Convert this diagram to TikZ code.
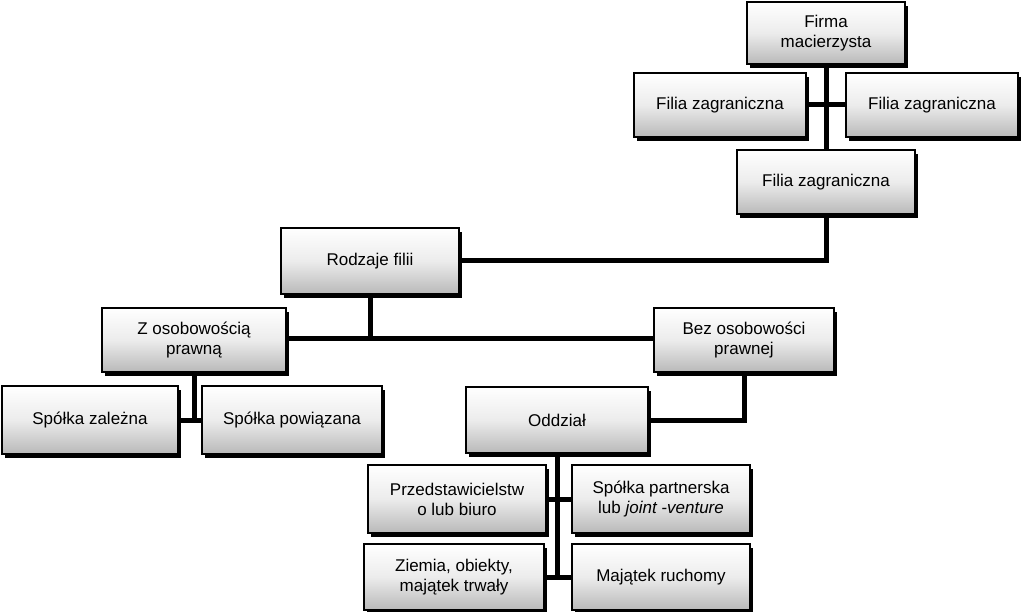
\documentclass[tikz,border=0pt]{standalone}
\usepackage{fontspec}
\setmainfont{Liberation Sans}
\usetikzlibrary{shadows,backgrounds}
\begin{document}
\begin{tikzpicture}[x=1pt,y=-1pt,
 box/.style={draw=black,line width=2.5pt,top color=white,bottom color=gray!55,
   middle color=gray!15,align=center,font=\fontsize{17}{20}\selectfont,inner sep=1pt,
   drop shadow={shadow xshift=3pt,shadow yshift=-4pt,fill=black,opacity=1}},
 conn/.style={line width=5pt,black}]
\useasboundingbox (0,0) rectangle (1024,612);
\coordinate (t1) at (826,105);
\coordinate (t2) at (826,260);
\coordinate (t3) at (370,338);
\coordinate (t4) at (194,420);
\coordinate (t5) at (744,420);
\coordinate (t6) at (557,499);
\coordinate (t7) at (557,578);
\node[box,minimum width=158,minimum height=62] (firma) at (826,33) {Firma\\macierzysta};
\node[box,minimum width=172,minimum height=64] (fl) at (720,105) {Filia zagraniczna};
\node[box,minimum width=172,minimum height=64] (fr) at (932,105) {Filia zagraniczna};
\node[box,minimum width=178,minimum height=64] (fb) at (826,182) {Filia zagraniczna};
\node[box,minimum width=178,minimum height=66] (rodz) at (370,261) {Rodzaje filii};
\node[box,minimum width=184,minimum height=64] (z) at (194,340) {Z osobowością\\prawną};
\node[box,minimum width=180,minimum height=64] (bez) at (744,340) {Bez osobowości\\prawnej};
\node[box,minimum width=176,minimum height=68] (sz) at (90,420) {Spółka zależna};
\node[box,minimum width=180,minimum height=68] (sp) at (292,420) {Spółka powiązana};
\node[box,minimum width=182,minimum height=66] (odd) at (557,420) {Oddział};
\node[box,minimum width=178,minimum height=68] (prz) at (457,499) {Przedstawicielstw\\o lub biuro};
\node[box,minimum width=178,minimum height=68] (spp) at (661,499) {Spółka partnerska\\lub \textit{joint -venture}};
\node[box,minimum width=180,minimum height=66] (ziem) at (454,577) {Ziemia, obiekty,\\majątek trwały};
\node[box,minimum width=178,minimum height=66] (maj) at (661,577) {Majątek ruchomy};
\begin{scope}[on background layer]
\draw[conn] (firma.south) -- (fb.north);
\draw[conn] (fl.east) -- (fr.west);
\draw[conn] (fb.south) -- (t2) -- (rodz.east |- t2);
\draw[conn] (rodz.south -| t3) -- (t3);
\draw[conn] (z.east |- t3) -- (bez.west |- t3);
\draw[conn] (z.south) -- (t4);
\draw[conn] (sz.east) -- (sp.west);
\draw[conn] (bez.south) -- (t5) -- (odd.east);
\draw[conn] (odd.south) -- (t7);
\draw[conn] (prz.east) -- (spp.west);
\draw[conn] (ziem.east) -- (maj.west);
\end{scope}
\end{tikzpicture}
\end{document}
